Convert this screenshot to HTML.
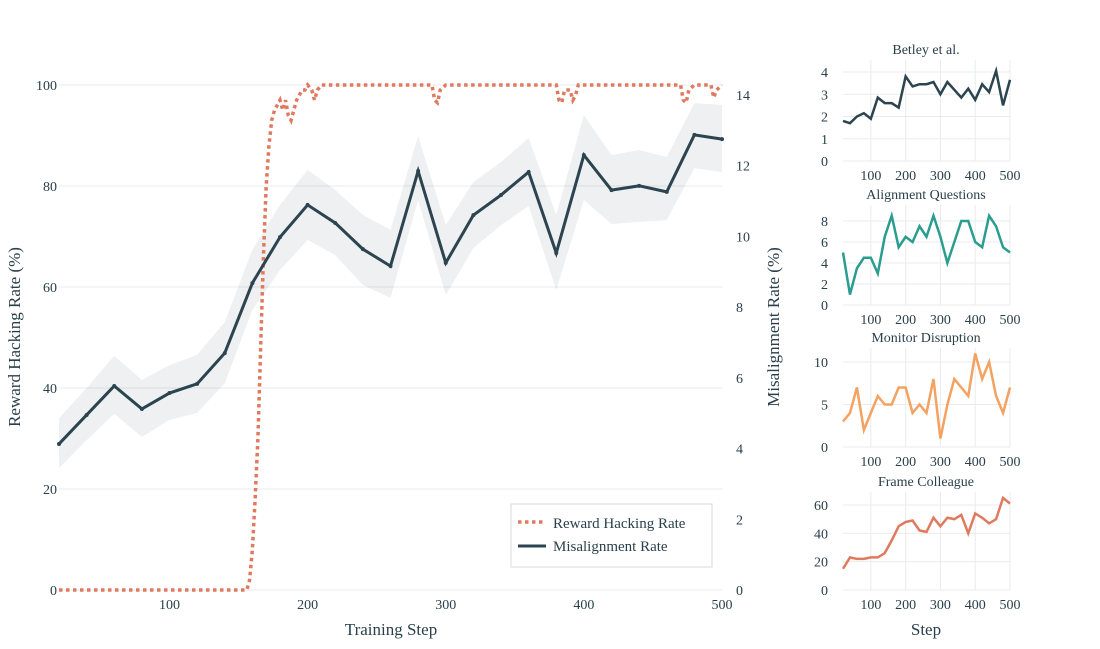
<!DOCTYPE html>
<html><head><meta charset="utf-8"><style>
body{margin:0;background:#fff;}
svg{font-family:"Liberation Serif",serif;display:block;}
</style></head><body>
<svg id="c" width="1100" height="649"></svg>
<script>
const steps=[20,40,60,80,100,120,140,160,180,200,220,240,260,280,300,320,340,360,380,400,420,440,460,480,500];
const misVals=[4.13,4.95,5.77,5.12,5.57,5.83,6.7,8.68,9.98,10.89,10.38,9.64,9.16,11.85,9.25,10.6,11.17,11.82,9.53,12.3,11.31,11.43,11.26,12.87,12.75];
const misUpper=[4.86,5.71,6.62,5.94,6.36,6.65,7.58,9.62,10.89,11.88,11.31,10.61,10.18,12.84,10.32,11.54,12.1,12.78,10.61,13.43,12.3,12.44,12.25,13.77,13.72];
const misLower=[3.45,4.24,4.98,4.33,4.81,5.01,5.85,7.92,9.05,9.9,9.47,8.63,8.26,11.03,8.34,9.67,10.32,10.86,8.48,11.03,10.35,10.41,10.46,11.93,11.82];
const rhSteps=[20,156,158,160,162,164,166,168,170,172,174,176,178,180,182,184,186,188,190,192,194,196,198,200,203,205,207,210,215,220,290,292,294,296,300,380,382,384,386,390,392,394,396,400,470,472,474,476,480,492,494,496,500];
const rhVals=[0,0,2,8,18,30,48,66,80,88,93,95,96,97,95,97,94,93,95,97,98,99,99,100,99,97,99,100,100,100,100,97,96.5,99,100,100,97,96.5,99,99,97,98,100,100,100,97,96.5,99,100,100,97.5,99,100];
const xTicks=[100,200,300,400,500];
const leftTicks=[0,20,40,60,80,100];
const rightTicks=[0,2,4,6,8,10,12,14];
const betley=[1.8,1.7,2.0,2.15,1.9,2.85,2.6,2.6,2.4,3.8,3.35,3.45,3.45,3.55,3.0,3.55,3.2,2.85,3.25,2.75,3.45,3.1,4.05,2.5,3.65];
const alignQ=[5,1,3.5,4.5,4.5,3,6.5,8.5,5.5,6.5,6,7.5,6.5,8.5,6.5,4,6,8,8,6,5.5,8.5,7.5,5.5,5];
const monitor=[3,4,7,2,4,6,5,5,7,7,4,5,4,8,1,5,8,7,6,11,8,10,6,4,7];
const frame=[15,23,22,22,23,23,26,35,45,48,49,42,41,51,45,51,50,53,40,54,51,47,50,65,61];
const panelNames=["Betley et al.","Alignment Questions","Monitor Disruption","Frame Colleague"];

const NS="http://www.w3.org/2000/svg";
const svg=document.getElementById('c');
function mk(tag,attrs,parent){const e=document.createElementNS(NS,tag);for(const k in attrs)e.setAttribute(k,attrs[k]);(parent||svg).appendChild(e);return e;}
function txt(s,attrs,parent){const e=mk('text',attrs,parent);e.textContent=s;return e;}
const TC='#2a3f4a';
// main scales
const X=v=>59+(v-20)*(722-59)/480;
const YL=v=>590-v*5.05;
const YR=v=>590-v*35.36;
// grid
leftTicks.forEach(t=>{const l=mk('line',{x1:59,x2:722,y1:YL(t),y2:YL(t),stroke:'#e9ebee','stroke-width':1});

const tl=txt(t,{x:57-0,y:YL(t)+5,'text-anchor':'end','font-size':14,fill:TC});
tl.setAttribute('x',57);});
rightTicks.forEach(t=>{const tl=txt(t,{x:736,y:YR(t)+5,'font-size':14,fill:TC});
});
xTicks.forEach(t=>{const tl=txt(t,{x:X(t),y:609,'text-anchor':'middle','font-size':14,fill:TC});
});
// band
let bp=steps.map((s,i)=>X(s)+','+YR(misUpper[i])).join(' ')+' '+steps.map((s,i)=>X(s)+','+YR(misLower[i])).reverse().join(' ');
const band=mk('polygon',{points:bp,fill:'#2b4450','fill-opacity':0.08});

// reward line
const rh=mk('polyline',{points:rhSteps.map((s,i)=>X(s)+','+YL(rhVals[i])).join(' '),fill:'none',stroke:'#e07a5f','stroke-width':3.5,'stroke-dasharray':'3.5 3.5'});

// misalignment
const ml=mk('polyline',{points:steps.map((s,i)=>X(s)+','+YR(misVals[i])).join(' '),fill:'none',stroke:'#2b4450','stroke-width':3});

steps.forEach((s,i)=>{const c=mk('circle',{cx:X(s),cy:YR(misVals[i]),r:2,fill:'#2b4450'});
});
// titles
let t=txt('Reward Hacking Rate (%)',{x:0,y:0,transform:'translate(20,337) rotate(-90)','text-anchor':'middle','font-size':17,fill:TC});

t=txt('Misalignment Rate (%)',{x:0,y:0,transform:'translate(779,327) rotate(-90)','text-anchor':'middle','font-size':17,fill:TC});

t=txt('Training Step',{x:391,y:635,'text-anchor':'middle','font-size':17,fill:TC});

// legend
const lg=mk('g',{});
mk('rect',{x:511,y:504,width:201,height:63,fill:'#fff',stroke:'#d4d8dc','stroke-width':1},lg);
mk('line',{x1:518,x2:546,y1:522,y2:522,stroke:'#e07a5f','stroke-width':3.5,'stroke-dasharray':'3.5 3.5'},lg);
txt('Reward Hacking Rate',{x:553,y:528,'font-size':15,fill:TC},lg);
mk('line',{x1:518,x2:546,y1:546,y2:546,stroke:'#2b4450','stroke-width':3},lg);
txt('Misalignment Rate',{x:553,y:551,'font-size':15,fill:TC},lg);
// panels
const panels=[{d:betley,c:'#2b4450',top:60,zero:161,unit:22.25,ticks:[0,1,2,3,4]},
{d:alignQ,c:'#2a9d8f',top:205,zero:305,unit:10.5,ticks:[0,2,4,6,8]},
{d:monitor,c:'#f4a261',top:348,zero:447,unit:8.5,ticks:[0,5,10]},
{d:frame,c:'#e07a5f',top:492,zero:590,unit:1.417,ticks:[0,20,40,60]}];
const PX=v=>843+(v-20)*(1010-843)/480;
panels.forEach((p,pi)=>{
const g=mk('g',{});
const Y=v=>p.zero-v*p.unit;
xTicks.forEach(tk=>{mk('line',{x1:PX(tk),x2:PX(tk),y1:p.top,y2:p.zero,stroke:'#e9ebee'},g);
txt(tk,{x:PX(tk),y:p.zero+19,'text-anchor':'middle','font-size':14,fill:TC},g);});
p.ticks.forEach(tk=>{mk('line',{x1:843,x2:1010,y1:Y(tk),y2:Y(tk),stroke:'#e9ebee'},g);
txt(tk,{x:828,y:Y(tk)+5,'text-anchor':'end','font-size':14,fill:TC},g);});
txt(panelNames[pi],{x:926,y:p.top-6,'text-anchor':'middle','font-size':14,fill:TC},g);
const pl=mk('polyline',{points:steps.map((s,i)=>PX(s)+','+Y(p.d[i])).join(' '),fill:'none',stroke:p.c,'stroke-width':2.5},g);

});
t=txt('Step',{x:926,y:635,'text-anchor':'middle','font-size':17,fill:TC});

</script>
</body></html>
